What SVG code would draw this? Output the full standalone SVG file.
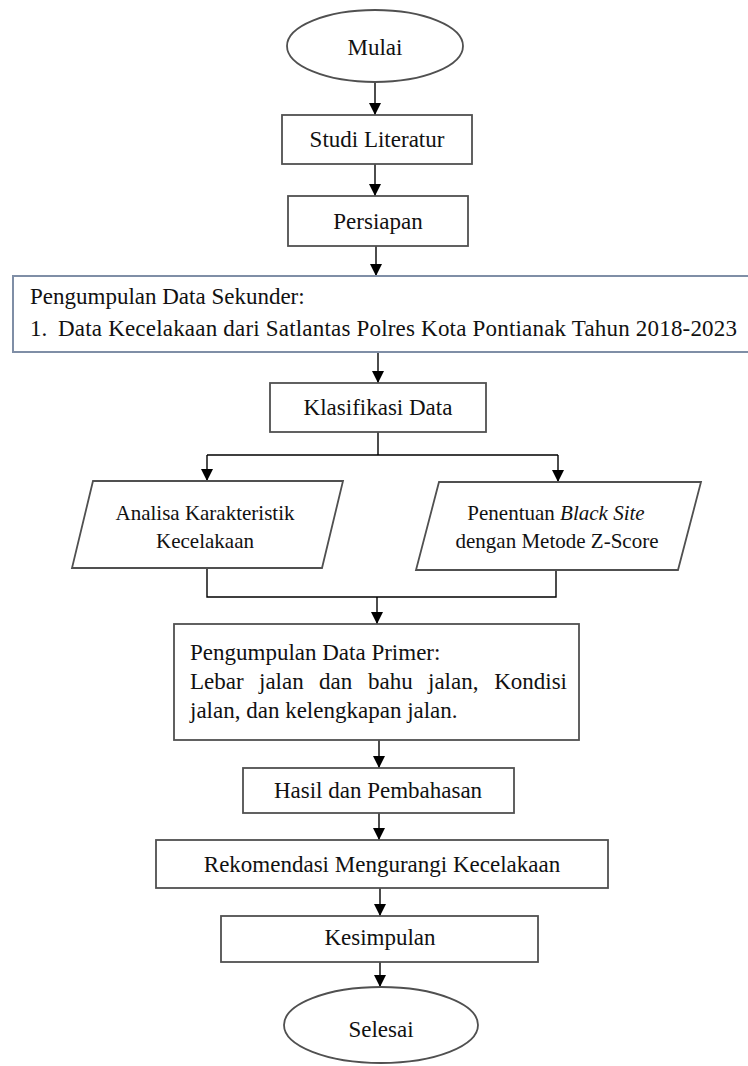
<svg xmlns="http://www.w3.org/2000/svg" width="748" height="1066" viewBox="0 0 748 1066">
<style>
.box{fill:#fff;stroke:#505050;stroke-width:1.8}
.sek{fill:#fff;stroke:#7f8ea6;stroke-width:2}
.t{font-family:"Liberation Serif","Times New Roman",serif;font-size:23px;fill:#111}
.s{font-family:"Liberation Serif","Times New Roman",serif;font-size:21px;fill:#111}
.c{text-anchor:middle}
.ln{fill:none;stroke:#000;stroke-width:1.4}
.ar{fill:none;stroke:#000;stroke-width:1.4;marker-end:url(#ah)}
</style>
<defs>
<marker id="ah" markerUnits="userSpaceOnUse" markerWidth="12" markerHeight="12" refX="11" refY="5.5" orient="auto" viewBox="0 0 11 11">
<path d="M0,0 L11,5.5 L0,11 z" fill="#000"/>
</marker>
</defs>
<rect width="748" height="1066" fill="#fff"/>
<g id="connectors">
<line class="ar" x1="375" y1="82" x2="375" y2="115"/>
<line class="ar" x1="375" y1="164" x2="375" y2="196"/>
<line class="ar" x1="376" y1="246" x2="376" y2="276"/>
<line class="ar" x1="378" y1="352" x2="378" y2="383"/>
<path class="ln" d="M378,432 V455 M207,455 H558"/>
<line class="ar" x1="207" y1="455" x2="207" y2="481"/>
<line class="ar" x1="558" y1="455" x2="558" y2="482"/>
<path class="ln" d="M207,568 V597 H556 V570"/>
<line class="ar" x1="377" y1="597" x2="377" y2="624"/>
<line class="ar" x1="379" y1="740" x2="379" y2="768"/>
<line class="ar" x1="379" y1="813" x2="379" y2="840"/>
<line class="ar" x1="380" y1="888" x2="380" y2="916"/>
<line class="ar" x1="380" y1="962" x2="380" y2="987"/>
</g>
<g id="mulai">
<ellipse class="box" cx="375" cy="46" rx="88" ry="36"/>
<text class="t c" x="375" y="55">Mulai</text>
</g>
<g id="studi">
<rect class="box" x="282" y="115" width="190" height="49"/>
<text class="t c" x="377" y="147">Studi Literatur</text>
</g>
<g id="persiapan">
<rect class="box" x="288" y="196" width="180" height="50"/>
<text class="t c" x="378" y="229">Persiapan</text>
</g>
<g id="sekunder">
<rect class="sek" x="13" y="276" width="760" height="76"/>
<text class="t" x="30" y="304">Pengumpulan Data Sekunder:</text>
<text class="t" x="30" y="336">1.</text>
<text class="t" x="58" y="336" textLength="679" lengthAdjust="spacing">Data Kecelakaan dari Satlantas Polres Kota Pontianak Tahun 2018-2023</text>
</g>
<g id="klasifikasi">
<rect class="box" x="270" y="383" width="216" height="49"/>
<text class="t c" x="378" y="415">Klasifikasi Data</text>
</g>
<g id="analisa">
<polygon class="box" points="93,481 343,481 322,568 72,568"/>
<text class="s c" x="205" y="520">Analisa Karakteristik</text>
<text class="s c" x="205" y="548">Kecelakaan</text>
</g>
<g id="penentuan">
<polygon class="box" points="439,482 701,482 678,570 416,570"/>
<text class="s c" x="556" y="520">Penentuan <tspan font-style="italic">Black Site</tspan></text>
<text class="s c" x="557" y="548">dengan Metode Z-Score</text>
</g>
<g id="primer">
<rect class="box" x="174" y="624" width="405" height="116"/>
<text class="t" x="190" y="660">Pengumpulan Data Primer:</text>
<text class="t" y="689"><tspan x="190">Lebar</tspan><tspan x="259">jalan</tspan><tspan x="319">dan</tspan><tspan x="368">bahu</tspan><tspan x="428">jalan,</tspan><tspan x="567" text-anchor="end">Kondisi</tspan></text>
<text class="t" x="190" y="718">jalan, dan kelengkapan jalan.</text>
</g>
<g id="hasil">
<rect class="box" x="243" y="768" width="271" height="45"/>
<text class="t c" x="378" y="798">Hasil dan Pembahasan</text>
</g>
<g id="rekomendasi">
<rect class="box" x="156" y="840" width="452" height="48"/>
<text class="t c" x="382" y="872">Rekomendasi Mengurangi Kecelakaan</text>
</g>
<g id="kesimpulan">
<rect class="box" x="221" y="916" width="317" height="46"/>
<text class="t c" x="380" y="945">Kesimpulan</text>
</g>
<g id="selesai">
<ellipse class="box" cx="381" cy="1025" rx="97" ry="38"/>
<text class="t c" x="381" y="1037">Selesai</text>
</g>
</svg>
